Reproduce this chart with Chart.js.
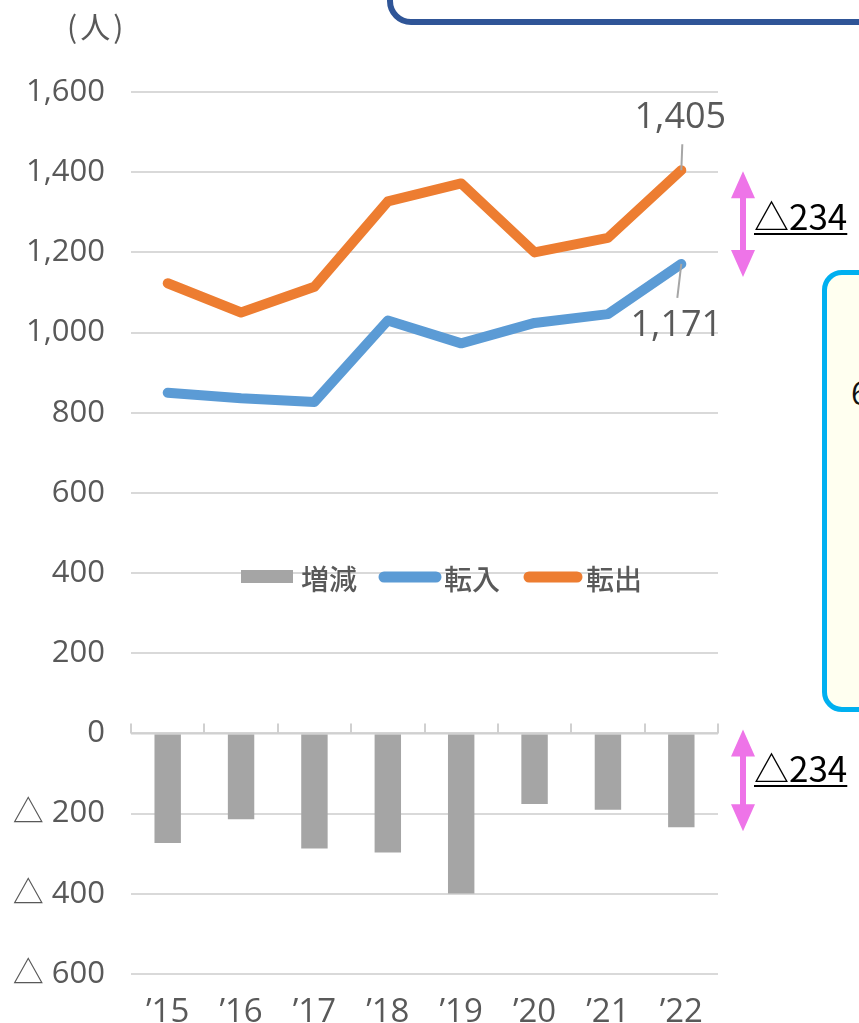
<!DOCTYPE html>
<html>
<head>
<meta charset="utf-8">
<script src="https://cdn.jsdelivr.net/npm/chart.js@4"></script>
<style>
  body { margin: 0; background: #fff; overflow: hidden; }
  #wrap { position: relative; width: 859px; height: 1023px; }
  canvas { position: absolute; left: 0; top: 0; }
  .topbox { position: absolute; left: 387px; top: -40px; width: 560px; height: 53px;
    border: 6px solid #2F5597; border-radius: 24px; background: #fff; }
  .sidebox { position: absolute; left: 822px; top: 270px; width: 120px; height: 432px;
    border: 5px solid #00B0F0; border-radius: 20px; background: #FFFFF0; }
  .sidebox span { position: absolute; left: 24px; top: 96px; font: 32px "Open Sans"; color: #111; }
  .unit { position: absolute; left: 67px; top: 3px; font: 30px "Noto Sans CJK JP"; color: #595959; letter-spacing: 3px; }
</style>
</head>
<body>
<div id="wrap">
  <canvas id="chart" width="859" height="1023"></canvas>
  <div class="topbox"></div>
  <div class="sidebox"><span>6</span></div>
  <div class="unit">(人)</div>
</div>
<script>
// Data
const years = ['’15', '’16', '’17', '’18', '’19', '’20', '’21', '’22'];
const tennyu = [850, 836, 827, 1030, 973, 1024, 1046, 1171];
const tenshutsu = [1123, 1050, 1114, 1327, 1372, 1200, 1236, 1405];
const zougen = [-273, -214, -287, -297, -399, -176, -190, -234];
const yTicks = [-600, -400, -200, 0, 200, 400, 600, 800, 1000, 1200, 1400, 1600];

const NUM_FONT = '"Open Sans", "Noto Sans CJK JP", sans-serif';
const JP_FONT = '"Noto Sans CJK JP", "Noto Sans", sans-serif';
const GRAY = '#A5A5A5', BLUE = '#5B9BD5', ORANGE = '#ED7D31', PINK = '#EE74E8';

function fmt(v) {
    const s = Math.abs(v).toLocaleString('en-US');
    return v < 0 ? '△ ' + s : s;
}

// Axis tick marks on the zero line, end labels, arrows and legend
const extras = {
    id: 'extras',
    beforeDatasetsDraw(chart) {
        const { ctx, scales: { x, y } } = chart;
        const y0 = y.getPixelForValue(0);
        const step = x.getPixelForValue(1) - x.getPixelForValue(0);
        ctx.save();
        ctx.strokeStyle = '#D0D0D0';
        ctx.lineWidth = 2;
        ctx.beginPath();
        ctx.moveTo(chart.chartArea.left, y0);
        ctx.lineTo(chart.chartArea.right, y0);
        for (let i = 0; i <= years.length; i++) {
            const px = Math.round(x.getPixelForValue(0) - step / 2 + i * step);
            ctx.moveTo(px, y0 - 10);
            ctx.lineTo(px, y0);
        }
        ctx.stroke();
        ctx.restore();
    },
    afterDraw(chart) {
        const { ctx, scales: { y } } = chart;
        const last = years.length - 1;
        const pOut = chart.getDatasetMeta(2).data[last];
        const pIn = chart.getDatasetMeta(1).data[last];
        ctx.save();
        // leader lines + value labels
        ctx.strokeStyle = '#A6A6A6';
        ctx.lineWidth = 2;
        ctx.beginPath();
        ctx.moveTo(pOut.x, pOut.y);
        ctx.lineTo(pOut.x + 1, pOut.y - 26);
        ctx.moveTo(pIn.x, pIn.y);
        ctx.lineTo(pIn.x - 4, pIn.y + 34);
        ctx.stroke();
        ctx.fillStyle = '#595959';
        ctx.font = '36px ' + NUM_FONT;
        ctx.textAlign = 'center';
        ctx.textBaseline = 'middle';
        ctx.fillText(tenshutsu[last].toLocaleString('en-US'), pOut.x - 1, pOut.y - 52);
        ctx.fillText(tennyu[last].toLocaleString('en-US'), pIn.x - 5, pIn.y + 62);

        // pink double arrows
        function arrow(cx, top, bottom) {
            const hw = 12, hh = 27, sw = 3;
            ctx.fillStyle = PINK;
            ctx.beginPath();
            ctx.moveTo(cx, top);
            ctx.lineTo(cx + hw, top + hh);
            ctx.lineTo(cx + sw, top + hh);
            ctx.lineTo(cx + sw, bottom - hh);
            ctx.lineTo(cx + hw, bottom - hh);
            ctx.lineTo(cx, bottom);
            ctx.lineTo(cx - hw, bottom - hh);
            ctx.lineTo(cx - sw, bottom - hh);
            ctx.lineTo(cx - sw, top + hh);
            ctx.lineTo(cx - hw, top + hh);
            ctx.closePath();
            ctx.fill();
        }
        arrow(743, y.getPixelForValue(tenshutsu[last]) + 1, y.getPixelForValue(tennyu[last]) + 13);
        arrow(743, y.getPixelForValue(0) - 4, y.getPixelForValue(zougen[last]) + 4);

        // △234 labels, underlined
        ctx.fillStyle = '#000';
        ctx.font = '35px ' + JP_FONT;
        ctx.textAlign = 'left';
        ctx.textBaseline = 'alphabetic';
        const diffText = '△' + Math.abs(zougen[last]);
        [230, 782].forEach(base => {
            ctx.fillText(diffText, 754, base);
            const w = ctx.measureText(diffText).width;
            ctx.fillRect(754, base + 3, w, 2);
        });

        // legend
        const ly = 577;
        ctx.font = '500 28px ' + JP_FONT;
        ctx.textBaseline = 'middle';
        ctx.fillStyle = GRAY;
        ctx.fillRect(241, ly - 7, 52, 13);
        ctx.lineCap = 'round';
        ctx.lineWidth = 11;
        ctx.strokeStyle = BLUE;
        ctx.beginPath(); ctx.moveTo(384, ly); ctx.lineTo(436, ly); ctx.stroke();
        ctx.strokeStyle = ORANGE;
        ctx.beginPath(); ctx.moveTo(529, ly); ctx.lineTo(577, ly); ctx.stroke();
        ctx.fillStyle = '#595959';
        ctx.fillText('増減', 301, ly + 2);
        ctx.fillText('転入', 444, ly + 2);
        ctx.fillText('転出', 586, ly + 2);
        ctx.restore();
    }
};

const ctx = document.getElementById('chart').getContext('2d');
new Chart(ctx, {
    data: {
        labels: years,
        datasets: [
            {
                type: 'bar', label: '増減', data: zougen, backgroundColor: GRAY,
                barPercentage: 0.36, categoryPercentage: 1, order: 3
            },
            {
                type: 'line', label: '転入', data: tennyu, borderColor: BLUE, borderWidth: 10,
                pointRadius: 0, borderCapStyle: 'round', borderJoinStyle: 'round', tension: 0, order: 2
            },
            {
                type: 'line', label: '転出', data: tenshutsu, borderColor: ORANGE, borderWidth: 10,
                pointRadius: 0, borderCapStyle: 'round', borderJoinStyle: 'round', tension: 0, order: 1
            }
        ]
    },
    options: {
        responsive: false,
        animation: false,
        layout: { padding: { top: 92, right: 141, left: 0, bottom: 0 } },
        plugins: { legend: { display: false }, tooltip: { enabled: false } },
        scales: {
            x: {
                offset: true,
                grid: { display: false },
                border: { display: false },
                ticks: { color: '#595959', font: { family: NUM_FONT, size: 33 }, padding: 11, maxRotation: 0 },
                afterFit: s => { s.height = 49; }
            },
            y: {
                min: -600, max: 1600,
                afterBuildTicks: s => { s.ticks = yTicks.map(v => ({ value: v })); },
                grid: { color: '#D9D9D9', lineWidth: 2, drawTicks: false },
                border: { display: false },
                ticks: {
                    color: '#595959', font: { family: NUM_FONT, size: 31 }, padding: 26,
                    callback: v => fmt(v)
                },
                afterFit: s => { s.width = 131; }
            }
        }
    },
    plugins: [extras]
});
</script>
</body>
</html>
